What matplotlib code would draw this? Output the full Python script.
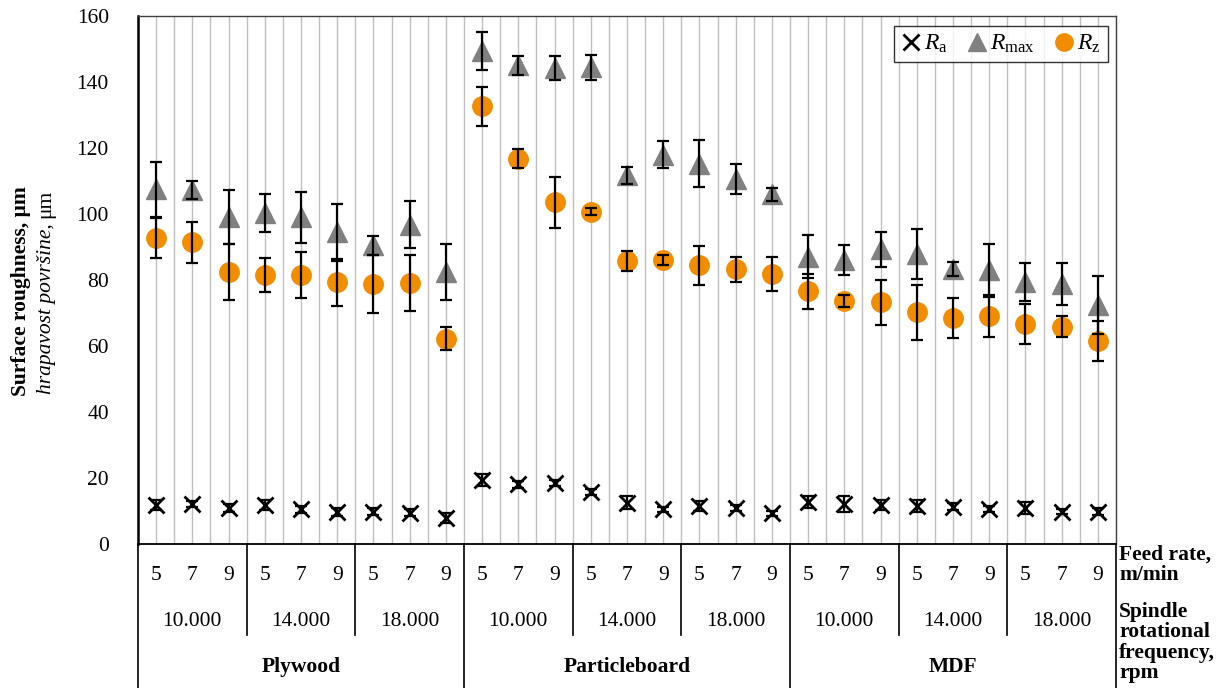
import numpy as np
import matplotlib
matplotlib.use("Agg")
import matplotlib.pyplot as plt
from matplotlib.lines import Line2D
from matplotlib.transforms import blended_transform_factory

plt.rcParams['font.family'] = ['Liberation Serif', 'DejaVu Serif']
plt.rcParams['mathtext.fontset'] = 'custom'
plt.rcParams['mathtext.rm'] = 'Liberation Serif'
plt.rcParams['mathtext.it'] = 'Liberation Serif:italic'

# ---- data ----
materials = ['Plywood', 'Particleboard', 'MDF']
rpm_labels = ['10.000', '14.000', '18.000']
feed_labels = ['5', '7', '9']

ra = [11.9, 12.1, 11.0, 11.9, 10.5, 9.8, 9.8, 9.5, 7.8,
      19.5, 18.1, 18.5, 15.7, 12.5, 10.5, 11.4, 10.9, 9.3,
      12.6, 12.1, 11.9, 11.4, 11.3, 10.6, 10.9, 9.8, 9.8]
ra_err = [1.5, 1.0, 1.2, 1.5, 1.0, 1.2, 1.0, 1.0, 1.5,
          1.8, 1.0, 1.0, 1.0, 2.0, 0.8, 1.5, 1.0, 0.8,
          1.8, 2.5, 1.5, 1.8, 1.0, 1.0, 1.7, 0.8, 1.0]

rmax = [107.5, 107.3, 99.0, 100.3, 99.0, 94.5, 90.5, 96.7, 82.5,
        149.3, 145.0, 144.3, 144.5, 111.7, 118.0, 115.3, 110.7, 106.0,
        87.0, 86.0, 89.3, 88.0, 83.4, 83.0, 79.5, 78.8, 72.5]
rmax_err = [8.3, 2.8, 8.2, 5.7, 7.7, 8.6, 2.9, 7.1, 8.5,
            5.7, 2.8, 3.6, 3.8, 2.6, 4.2, 7.0, 4.5, 2.0,
            6.5, 4.5, 5.3, 7.6, 2.2, 8.0, 5.8, 6.5, 8.8]

rz = [92.8, 91.5, 82.5, 81.5, 81.5, 79.3, 78.8, 79.0, 62.2,
      132.7, 116.7, 103.5, 100.7, 85.7, 86.1, 84.4, 83.2, 81.8,
      76.6, 73.6, 73.3, 70.2, 68.5, 69.0, 66.6, 65.8, 61.5]
rz_err = [6.1, 6.2, 8.5, 5.2, 6.9, 7.1, 8.9, 8.5, 3.5,
          5.9, 2.9, 7.7, 1.1, 3.0, 1.5, 6.0, 3.9, 5.1,
          5.3, 1.8, 6.8, 8.4, 6.0, 6.4, 6.0, 3.2, 6.0]

n = len(ra)
x = np.arange(n)

FS = 15.5
W, H = 1223, 688
fig = plt.figure(figsize=(W / 100, H / 100), dpi=100)
L, R, T, B = 138, 1116, 16, 544
ax = fig.add_axes([L / W, 1 - B / H, (R - L) / W, (B - T) / H])

orange = '#F28C00'
gray = '#808080'

# markers
ax.plot(x, ra, linestyle='none', marker='x', ms=11, mew=2, color='black', zorder=3)
ax.plot(x, rmax, linestyle='none', marker='^', ms=14.5, color=gray, mec=gray, zorder=3)
ax.plot(x, rz, linestyle='none', marker='o', ms=14, color=orange, mec=orange, zorder=3)

ekw = dict(fmt='none', ecolor='black', elinewidth=1.6, capsize=4.5, capthick=1.6, zorder=4)
ax.errorbar(x, ra, yerr=ra_err, **ekw)
ax.errorbar(x, rmax, yerr=rmax_err, **ekw)
ax.errorbar(x, rz, yerr=rz_err, **ekw)

ax.set_xlim(-0.5, n - 0.5)
ax.set_ylim(0, 160)
ax.set_yticks(np.arange(0, 161, 20))
ax.set_xticks(np.arange(-0.5, n, 0.5))
ax.set_xticklabels([])
ax.tick_params(axis='x', length=0)
ax.tick_params(axis='y', length=0, pad=21, labelsize=FS)
ax.grid(axis='x', color='#BFBFBF', linewidth=1.0, zorder=0)
ax.set_axisbelow(True)

ax.spines['left'].set_color('black')
ax.spines['left'].set_linewidth(1.8)
ax.spines['bottom'].set_color('black')
ax.spines['bottom'].set_linewidth(1.3)
for s in ['top', 'right']:
    ax.spines[s].set_color('#404040')
    ax.spines[s].set_linewidth(1.0)

# legend
handles = [
    Line2D([], [], linestyle='none', marker='x', ms=11, mew=2, color='black'),
    Line2D([], [], linestyle='none', marker='^', ms=13, color=gray),
    Line2D([], [], linestyle='none', marker='o', ms=12.5, color=orange),
]
labels = [r'$R_{\mathrm{a}}$', r'$R_{\mathrm{max}}$', r'$R_{\mathrm{z}}$']
leg = ax.legend(handles, labels, ncol=3, loc='upper right',
                bbox_to_anchor=((1108 - L) / (R - L), (B - 26) / (B - T)),
                borderaxespad=0, fancybox=False, frameon=True, fontsize=17,
                handlelength=0.8, handletextpad=0.15, columnspacing=0.85,
                borderpad=0.3)
leg.get_frame().set_edgecolor('black')
leg.get_frame().set_linewidth(1.0)

# y label
fig.text(21 / W, 1 - 291 / H, 'Surface roughness, μm', rotation=90,
         ha='center', va='center', fontsize=FS, fontweight='bold')
t_it = fig.text(46 / W, 1 - 394 / H, 'hrapavost površine,', rotation=90,
                rotation_mode='anchor', ha='left', va='center',
                fontsize=FS, style='italic')
ax.annotate('μm', xy=(0.5, 1.0), xycoords=t_it, xytext=(0, 4),
            textcoords='offset points', rotation=90, ha='center', va='bottom',
            fontsize=FS)

# multi-level category axis
tr = blended_transform_factory(ax.transData, fig.transFigure)
def fy(py):
    return 1 - py / H

for i in range(n):
    ax.text(x[i], fy(576), feed_labels[i % 3], transform=tr,
            ha='center', va='center', fontsize=FS, clip_on=False)
for g in range(9):
    ax.text(3 * g + 1, fy(621), rpm_labels[g % 3], transform=tr,
            ha='center', va='center', fontsize=FS, clip_on=False)
for m in range(3):
    ax.text(9 * m + 4, fy(667), materials[m], transform=tr,
            ha='center', va='center', fontsize=FS, fontweight='bold',
            clip_on=False)

for g in range(1, 9):
    xb = 3 * g - 0.5
    if g % 3 == 0:
        ax.add_line(Line2D([xb, xb], [fy(B), fy(H)], transform=tr,
                           color='black', linewidth=1.2, clip_on=False))
    else:
        ax.add_line(Line2D([xb, xb], [fy(B), fy(635)], transform=tr,
                           color='black', linewidth=1.2, clip_on=False))
for xb in [-0.5, n - 0.5]:
    ax.add_line(Line2D([xb, xb], [fy(B), fy(H)], transform=tr,
                       color='black', linewidth=1.2, clip_on=False))

fig.text(1119 / W, fy(545), 'Feed rate,\nm/min', ha='left', va='top',
         fontsize=FS, fontweight='bold', linespacing=1.0)
fig.text(1119 / W, fy(602), 'Spindle\nrotational\nfrequency,\nrpm', ha='left',
         va='top', fontsize=FS, fontweight='bold', linespacing=1.02)

fig.savefig('out.png', dpi=100)
